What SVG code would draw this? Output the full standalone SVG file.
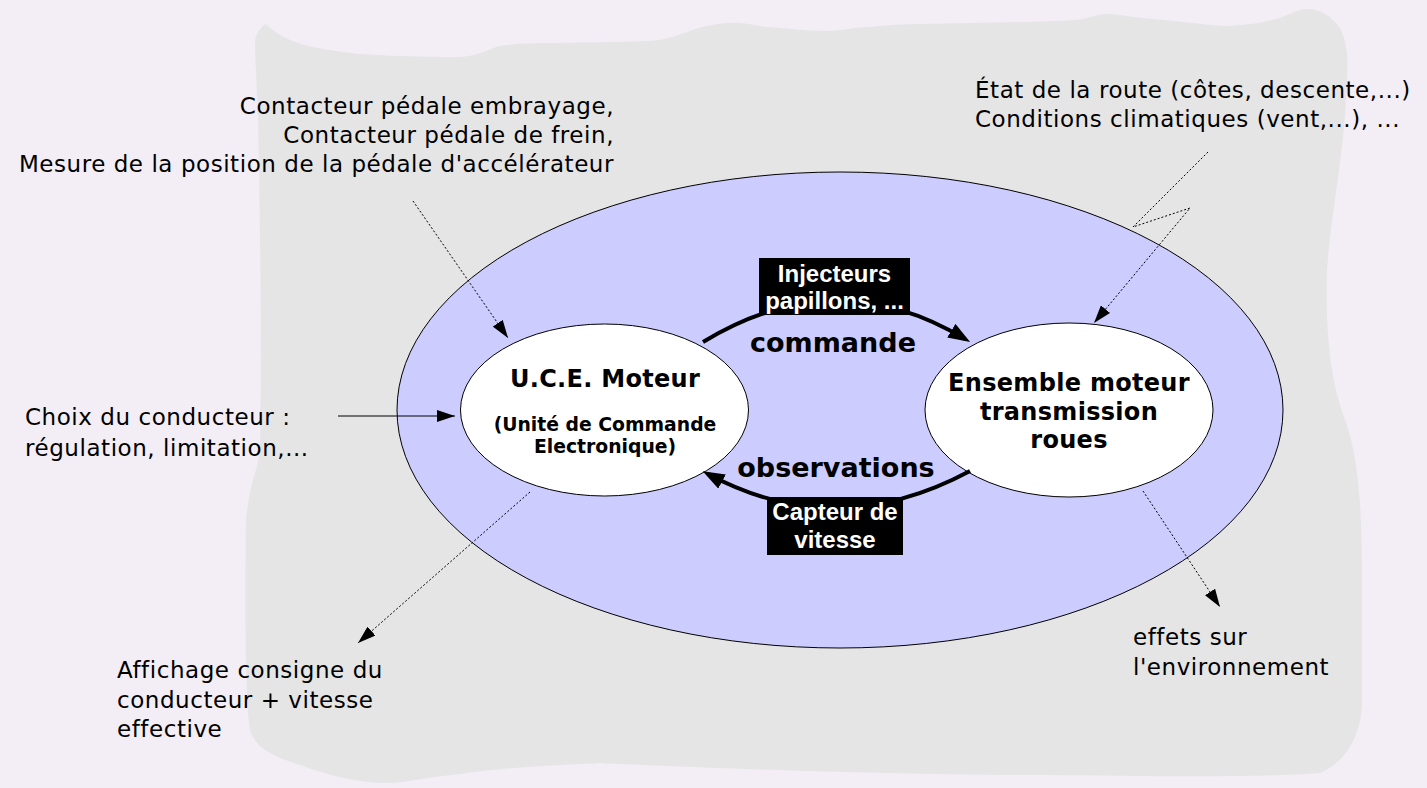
<svg xmlns="http://www.w3.org/2000/svg" width="1427" height="788" viewBox="0 0 1427 788">
  <style>
    .txt { font-family: "DejaVu Sans", Verdana, sans-serif; font-size: 23px; letter-spacing: 0.55px; fill: #000; }
    .title { font-family: "DejaVu Sans", Verdana, sans-serif; font-weight: bold; font-size: 24px; letter-spacing: 0.3px; fill: #000; text-anchor: middle; }
    .sub { font-family: "DejaVu Sans", Verdana, sans-serif; font-weight: bold; font-size: 18.8px; fill: #000; text-anchor: middle; }
    .flow { font-family: "DejaVu Sans", Verdana, sans-serif; font-weight: bold; font-size: 27px; fill: #000; text-anchor: middle; }
    .tag { font-family: "Liberation Sans", Arial, sans-serif; font-weight: bold; font-size: 24px; fill: #fff; text-anchor: middle; }
    .node { fill: #fff; stroke: #000; stroke-width: 1; }
    .thick { fill: none; stroke: #000; stroke-width: 4; }
    .thin { fill: none; stroke: #000; stroke-width: 1; }
    .dot { fill: none; stroke: #000; stroke-width: 1; stroke-dasharray: 2 2; }
  </style>
  <defs>
    <marker id="headBig" markerUnits="userSpaceOnUse" viewBox="0 0 22 16" markerWidth="22" markerHeight="16" refX="16" refY="8" orient="auto">
      <path d="M0,0 L22,8 L0,16 z" fill="#000"/>
    </marker>
    <marker id="headSmall" markerUnits="userSpaceOnUse" viewBox="0 0 18 12" markerWidth="18" markerHeight="12" refX="18" refY="6" orient="auto">
      <path d="M0,0 L18,6 L0,12 z" fill="#000"/>
    </marker>
  </defs>

  <!-- page background -->
  <rect width="1427" height="788" fill="#f3edf5"/>

  <!-- environment area -->
  <path id="environment" fill="#e5e5e5" d="M255,42 C256,32 262,26 266,24 C280,38 300,46 330,50 C360,56 420,57 460,57 C480,56 490,48 500,46 C520,43 540,43 555,43 C600,42 640,42 660,40 C680,36 695,28 707,26 C720,23 730,22 740,23 C752,24 760,27 770,27 C790,29 810,31 830,31 C845,30 856,27 870,27 C890,25 905,24 922,24 C980,23 1040,22 1076,20 C1090,18 1098,14 1107,14 C1120,14 1135,18 1153,19 C1180,21 1210,26 1230,26 C1250,25 1265,22 1276,19 C1290,15 1298,9 1307,9 C1318,9 1330,14 1340,28 C1348,45 1348,60 1347,80 C1345,150 1330,220 1327,270 C1325,330 1330,380 1345,420 C1360,460 1362,520 1362,580 L1362,700 C1362,730 1350,760 1320,773 C1250,778 1150,776 1050,775 C900,775 700,768 600,763 C540,766 500,768 460,774 C420,778 400,784 383,783 C350,782 320,772 300,765 C270,755 256,748 250,730 C245,700 245,600 246,520 C250,480 258,470 260,450 C262,350 260,200 258,120 C257,80 255,60 255,42 Z"/>

  <!-- vehicle system boundary -->
  <g id="system">
    <ellipse cx="840" cy="410" rx="443" ry="238" fill="#ccccff" stroke="#000" stroke-width="1"/>
  </g>

  <!-- nodes -->
  <g id="uce">
    <ellipse class="node" cx="604.5" cy="410" rx="144" ry="86"/>
    <text class="title" x="605" y="387">U.C.E. Moteur</text>
    <text class="sub" x="605" y="431">(Unité de Commande</text>
    <text class="sub" x="605" y="453">Electronique)</text>
  </g>
  <g id="engine">
    <ellipse class="node" cx="1069" cy="410" rx="144" ry="87"/>
    <text class="title" x="1069" y="391">Ensemble moteur</text>
    <text class="title" x="1069" y="420">transmission</text>
    <text class="title" x="1069" y="448">roues</text>
  </g>

  <!-- connectors -->
  <g id="connectors">
    <path class="thick" d="M703,342 Q836,261 965,339" marker-end="url(#headBig)"/>
    <path class="thick" d="M970,471 Q836,543 708,474" marker-end="url(#headBig)"/>
    <path class="thin" d="M338,416 L455,416" marker-end="url(#headSmall)"/>
    <path class="dot" d="M413,201 L508,338" marker-end="url(#headSmall)"/>
    <path class="dot" d="M1208,152 L1133,227 L1190,208 L1094,323" marker-end="url(#headSmall)"/>
    <path class="dot" d="M530,492 L358,643" marker-end="url(#headSmall)"/>
    <path class="dot" d="M1143,491 L1220,607" marker-end="url(#headSmall)"/>
  </g>

  <!-- flow labels -->
  <g id="command-label">
    <rect x="759" y="258" width="151" height="57" fill="#000"/>
    <text class="tag" x="834.5" y="282">Injecteurs</text>
    <text class="tag" x="834.5" y="309">papillons, ...</text>
    <text class="flow" x="833" y="352">commande</text>
  </g>
  <g id="observation-label">
    <rect x="767" y="497" width="136" height="58" fill="#000"/>
    <text class="tag" x="835" y="520">Capteur de</text>
    <text class="tag" x="835" y="548">vitesse</text>
    <text class="flow" x="836" y="477">observations</text>
  </g>

  <!-- inputs and outputs -->
  <g id="pedals">
    <text class="txt" text-anchor="end" x="614" y="114">Contacteur pédale embrayage,</text>
    <text class="txt" text-anchor="end" x="614" y="143">Contacteur pédale de frein,</text>
    <text class="txt" text-anchor="end" x="614" y="172">Mesure de la position de la pédale d'accélérateur</text>
  </g>
  <g id="road">
    <text class="txt" x="975" y="98">État de la route (côtes, descente,...)</text>
    <text class="txt" x="975" y="127">Conditions climatiques (vent,...), ...</text>
  </g>
  <g id="driver-choice">
    <text class="txt" x="25" y="425">Choix du conducteur :</text>
    <text class="txt" x="25" y="456">régulation, limitation,...</text>
  </g>
  <g id="display">
    <text class="txt" x="117" y="678">Affichage consigne du</text>
    <text class="txt" x="117" y="708">conducteur + vitesse</text>
    <text class="txt" x="117" y="737">effective</text>
  </g>
  <g id="effects">
    <text class="txt" x="1133" y="645">effets sur</text>
    <text class="txt" x="1133" y="675">l'environnement</text>
  </g>
</svg>
